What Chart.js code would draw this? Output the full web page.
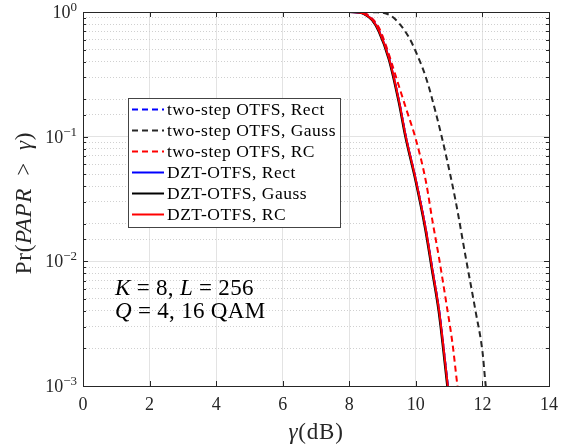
<!DOCTYPE html>
<html>
<head>
<meta charset="utf-8">
<script src="https://cdn.jsdelivr.net/npm/chart.js@4.4.1/dist/chart.umd.min.js"></script>
<style>
  html, body { margin: 0; padding: 0; background: #fff; }
  #paprChart { display: block; }
</style>
</head>
<body>
<canvas id="paprChart" width="567" height="445"></canvas>
<script>
// values (gamma in dB, Pr(PAPR > gamma))
const gammaDztRc = [0, 8.0, 8.3, 8.5, 8.7, 8.9, 9.2, 9.5, 9.7, 10.0, 10.3, 10.5, 10.7, 10.9, 11.0];
const prDztRc = [1, 1, 0.99, 0.95, 0.86, 0.7, 0.42, 0.19, 0.1, 0.045, 0.018, 0.0085, 0.004, 0.0014, 0.0008];
const gammaDztGauss = [0, 7.98, 8.28, 8.48, 8.68, 8.88, 9.18, 9.48, 9.68, 9.98, 10.28, 10.48, 10.68, 10.88, 10.98];
const prDztGauss = [1, 1, 0.99, 0.95, 0.86, 0.7, 0.42, 0.19, 0.1, 0.045, 0.018, 0.0085, 0.004, 0.0014, 0.0008];
const gammaDztRect = [0, 8.0, 8.3, 8.5, 8.7, 8.9, 9.2, 9.5, 9.7, 10.0, 10.3, 10.5, 10.7, 10.9, 11.0];
const prDztRect = [1, 1, 0.99, 0.95, 0.86, 0.7, 0.42, 0.19, 0.1, 0.045, 0.018, 0.0085, 0.004, 0.0014, 0.0008];

const gammaTwoRect = [0, 8.0, 8.3, 8.5, 8.7, 8.9, 9.2, 9.5, 9.7, 10.0, 10.3, 10.5, 10.7, 10.9, 11.0];
const prTwoRect = [1, 1, 0.99, 0.95, 0.86, 0.7, 0.42, 0.19, 0.1, 0.045, 0.018, 0.0085, 0.004, 0.0014, 0.0008];
const gammaTwoRc = [0, 8.2, 8.5, 8.7, 8.9, 9.1, 9.3, 9.5, 9.7, 10.0, 10.3, 10.5, 10.7, 10.9, 11.1, 11.25, 11.3];
const prTwoRc = [1, 1, 0.97, 0.88, 0.74, 0.54, 0.37, 0.25, 0.17, 0.095, 0.044, 0.021, 0.0105, 0.0049, 0.0022, 0.001, 0.0008];
const gammaTwoGauss = [0, 8.4, 8.8, 9.2, 9.5, 9.8, 10.0, 10.3, 10.6, 10.9, 11.2, 11.5, 11.8, 12.0, 12.1, 12.15];
const prTwoGauss = [1, 1, 0.995, 0.95, 0.81, 0.62, 0.48, 0.3, 0.155, 0.072, 0.03, 0.0107, 0.0039, 0.0019, 0.001, 0.0008];

const xTicks = [0, 2, 4, 6, 8, 10, 12, 14];
const yDecades = [0.001, 0.01, 0.1, 1];
const yExponents = ["\u22123", "\u22122", "\u22121", "0"];

const serif = "'Liberation Serif', 'DejaVu Serif', serif";
const axisColor = "#262626";

function pts(xs, ys) {
  return xs.map((x, i) => ({ x: x, y: ys[i] }));
}

function series(label, xs, ys, color, dashed, order) {
  return {
    label: label,
    data: pts(xs, ys),
    borderColor: color,
    backgroundColor: color,
    borderWidth: 2,
    borderDash: dashed ? [6, 4] : [],
    pointRadius: 0,
    cubicInterpolationMode: "monotone",
    order: order,
  };
}

function isDecade(v) {
  const l = Math.log10(v);
  return Math.abs(l - Math.round(l)) < 1e-6;
}

function setFont(ctx, italic, size) {
  ctx.font = (italic ? "italic " : "") + size + "px " + serif;
}

// text made of roman / italic pieces; align "center" or "left"
function richText(ctx, parts, x, y, size, spacing, align) {
  ctx.letterSpacing = spacing + "px";
  let total = 0;
  parts.forEach((p) => {
    setFont(ctx, p[1], size);
    total += ctx.measureText(p[0]).width;
  });
  let cx = align === "center" ? x - total / 2 : x;
  ctx.textAlign = "left";
  parts.forEach((p) => {
    setFont(ctx, p[1], size);
    ctx.fillText(p[0], cx, y);
    cx += ctx.measureText(p[0]).width;
  });
  ctx.letterSpacing = "0px";
}

const framePlugin = {
  id: "frame",
  afterDatasetsDraw(chart) {
    const ctx = chart.ctx;
    const a = chart.chartArea;
    const xs = chart.scales.x;
    const ys = chart.scales.y;
    ctx.save();
    ctx.strokeStyle = axisColor;
    ctx.lineWidth = 1;
    ctx.setLineDash([]);
    // inward ticks on all four sides
    ctx.beginPath();
    xTicks.forEach((t) => {
      const px = Math.round(xs.getPixelForValue(t)) + 0.5;
      ctx.moveTo(px, a.bottom);
      ctx.lineTo(px, a.bottom - 5);
      ctx.moveTo(px, a.top);
      ctx.lineTo(px, a.top + 5);
    });
    ys.ticks.forEach((t) => {
      const py = Math.round(ys.getPixelForValue(t.value)) + 0.5;
      const len = isDecade(t.value) ? 5 : 3;
      ctx.moveTo(a.left, py);
      ctx.lineTo(a.left + len, py);
      ctx.moveTo(a.right, py);
      ctx.lineTo(a.right - len, py);
    });
    ctx.stroke();
    ctx.strokeRect(Math.round(a.left) + 0.5, Math.round(a.top) + 0.5,
      Math.round(a.right - a.left), Math.round(a.bottom - a.top));

    // y tick labels 10^k
    ctx.fillStyle = axisColor;
    ctx.textBaseline = "alphabetic";
    yDecades.forEach((d, i) => {
      const py = ys.getPixelForValue(d);
      setFont(ctx, false, 13);
      ctx.textAlign = "right";
      const ew = ctx.measureText(yExponents[i]).width;
      ctx.fillText(yExponents[i], 77, py - 1);
      setFont(ctx, false, 18);
      ctx.fillText("10", 77 - ew, py + 6);
    });

    // legend box
    const lx = 128, ly = 98, lw = 212, lh = 129;
    ctx.fillStyle = "#fff";
    ctx.fillRect(lx, ly, lw, lh);
    ctx.strokeStyle = "#444";
    ctx.strokeRect(lx + 0.5, ly + 0.5, lw, lh);
    ctx.textBaseline = "middle";
    chart.data.datasets.forEach((ds, i) => {
      const y = ly + 11.5 + i * 21;
      ctx.strokeStyle = ds.borderColor;
      ctx.lineWidth = 2;
      ctx.setLineDash(ds.borderDash);
      ctx.beginPath();
      ctx.moveTo(lx + 4, y);
      ctx.lineTo(lx + 36, y);
      ctx.stroke();
      ctx.setLineDash([]);
      ctx.fillStyle = "#000";
      setFont(ctx, false, 17.5);
      ctx.letterSpacing = "0.5px";
      ctx.textAlign = "left";
      ctx.fillText(ds.label, lx + 39, y + 1);
      ctx.letterSpacing = "0px";
    });

    // annotation
    ctx.fillStyle = "#000";
    ctx.textBaseline = "alphabetic";
    richText(ctx, [["K", true], [" = 8, ", false], ["L", true], [" = 256", false]], 115, 295, 23, 0.3, "left");
    richText(ctx, [["Q", true], [" = 4, 16 QAM", false]], 115, 318, 23, 0.3, "left");

    // axis titles
    ctx.fillStyle = axisColor;
    ctx.textBaseline = "middle";
    richText(ctx, [["\u03B3", true], ["(dB)", false]], (a.left + a.right) / 2, 433, 23, 0.8, "center");
    ctx.translate(25, 203);
    ctx.rotate(-Math.PI / 2);
    richText(ctx, [["Pr(", false], ["PAPR", true], ["\u2002>\u2002", false], ["\u03B3", true], [")", false]], 0, 0, 23, 0.7, "center");
    ctx.restore();
  },
};

const ctx = document.getElementById("paprChart").getContext("2d");

const paprChart = new Chart(ctx, {
  type: "line",
  data: {
    datasets: [
      series("two-step OTFS, Rect", gammaTwoRect, prTwoRect, "#0000ff", true, 5),
      series("two-step OTFS, Gauss", gammaTwoGauss, prTwoGauss, "#262626", true, 4),
      series("two-step OTFS, RC", gammaTwoRc, prTwoRc, "#ff0000", true, 3),
      series("DZT-OTFS, Rect", gammaDztRect, prDztRect, "#0000ff", false, 2),
      series("DZT-OTFS, Gauss", gammaDztGauss, prDztGauss, "#000000", false, 1),
      series("DZT-OTFS, RC", gammaDztRc, prDztRc, "#ff0000", false, 0),
    ],
  },
  options: {
    responsive: false,
    animation: false,
    layout: { padding: { top: 12, right: 18, left: 0, bottom: 0 } },
    plugins: {
      legend: { display: false },
      tooltip: { enabled: false },
    },
    scales: {
      x: {
        type: "linear",
        min: 0,
        max: 14,
        afterBuildTicks: (scale) => {
          scale.ticks = xTicks.map((v) => ({ value: v }));
        },
        afterFit: (scale) => {
          scale.height = 59;
        },
        ticks: {
          color: axisColor,
          font: { family: serif, size: 18 },
          padding: 8,
          maxRotation: 0,
        },
        grid: {
          color: "#e3e3e3",
          lineWidth: 1,
          drawTicks: false,
        },
        border: { display: false },
      },
      y: {
        type: "logarithmic",
        min: 0.001,
        max: 1,
        afterFit: (scale) => {
          scale.width = 83;
        },
        ticks: {
          display: false,
          autoSkip: false,
        },
        grid: {
          drawTicks: false,
          color: (c) => (c.tick && isDecade(c.tick.value) ? "#e3e3e3" : "#d0d0d0"),
          lineWidth: 1,
        },
        border: {
          display: false,
          dash: (c) => (c.tick && !isDecade(c.tick.value) ? [1, 2] : []),
        },
      },
    },
  },
  plugins: [framePlugin],
});
</script>
</body>
</html>
